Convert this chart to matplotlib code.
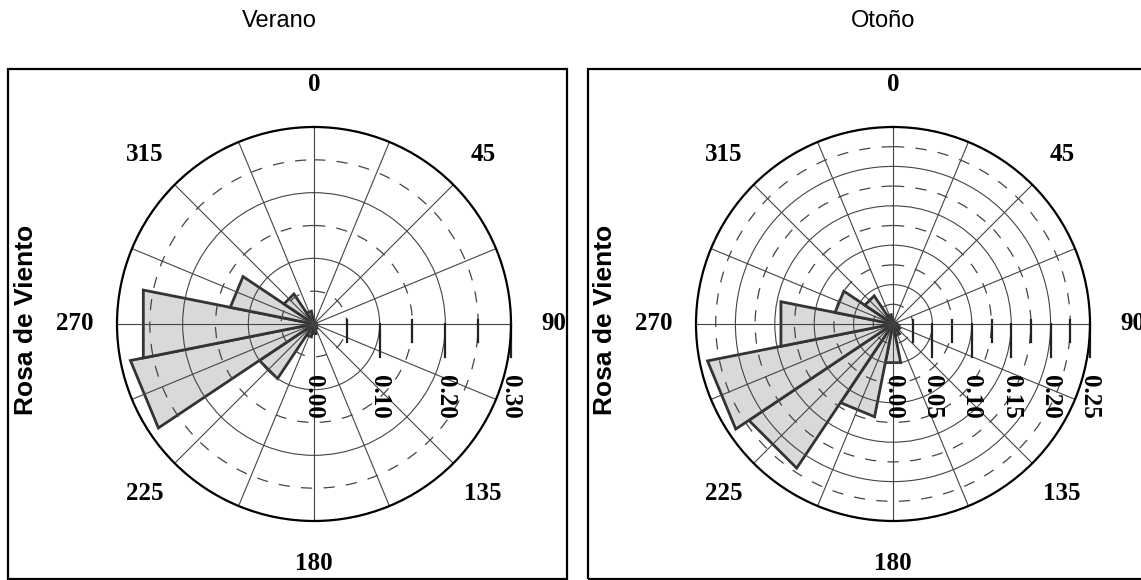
import numpy as np
import matplotlib.pyplot as plt
from matplotlib.patches import Rectangle

# sectores de direccion (grados), ancho 22.5
direcciones = np.arange(0, 360, 22.5)

# frecuencias relativas por sector
verano = [0.005, 0.003, 0.003, 0.003, 0.003, 0.003, 0.005, 0.008,
          0.015, 0.02, 0.10, 0.285, 0.265, 0.13, 0.055, 0.02]
otono = [0.005, 0.003, 0.003, 0.003, 0.005, 0.008, 0.01, 0.015,
         0.05, 0.12, 0.22, 0.24, 0.145, 0.075, 0.043, 0.012]

etiquetas_ang = ['0', '45', '90', '135', '180', '225', '270', '315']

verano_rmax = 0.30
verano_mayores = [0.10, 0.20, 0.30]
verano_menores = [0.05, 0.15, 0.25]
verano_etiq = ['0.00', '0.10', '0.20', '0.30']

otono_rmax = 0.25
otono_mayores = [0.05, 0.10, 0.15, 0.20, 0.25]
otono_menores = [0.025, 0.075, 0.125, 0.175, 0.225]
otono_etiq = ['0.00', '0.05', '0.10', '0.15', '0.20', '0.25']

W, H = 1141, 580
fig = plt.figure(figsize=(W / 100, H / 100), dpi=100)

serif = 'Liberation Serif'
sans = 'Liberation Sans'
gris = '#444444'


def rosa(ax, valores, rmax, mayores, menores, etiquetas_r):
    ax.set_theta_zero_location('N')
    ax.set_theta_direction(-1)
    media = np.deg2rad(22.5 / 2)
    for d, v in zip(direcciones, valores):
        t = np.deg2rad(d)
        ax.fill([0, t - media, t + media, 0], [0, v, v, 0],
                facecolor='#d9d9d9', edgecolor='#333333', lw=2, zorder=1)
    ax.set_xticks(np.deg2rad(direcciones))
    ax.set_xticklabels([])
    ax.set_yticks(mayores)
    ax.set_yticks(menores, minor=True)
    ax.set_yticklabels([])
    ax.set_yticklabels([], minor=True)
    ax.set_ylim(0, rmax)
    ax.xaxis.grid(True, color=gris, lw=0.8, ls='-')
    ax.yaxis.grid(True, which='major', color=gris, lw=0.8, ls='-')
    ax.yaxis.grid(True, which='minor', color=gris, lw=0.9, ls=(0, (9, 9)))
    ax.tick_params(axis='x', direction='in', length=5, width=1.4,
                   color='#222222')
    ax.tick_params(axis='y', which='both', length=0)
    ax.spines['polar'].set_linewidth(1.6)

    # marcas sobre el eje de 90 grados
    for v in mayores:
        x = 0.5 + 0.5 * v / rmax
        ax.plot([x, x], [0.5, 0.415], transform=ax.transAxes,
                color='#222222', lw=1.6, clip_on=False)
    for v in menores:
        x = 0.5 + 0.5 * v / rmax
        ax.plot([x, x], [0.51, 0.455], transform=ax.transAxes,
                color='#222222', lw=1.6, clip_on=False)
    for s in etiquetas_r:
        x = 0.5 + 0.5 * float(s) / rmax
        ax.text(x, 0.37, s, rotation=-90, ha='center', va='top',
                transform=ax.transAxes, fontsize=18, fontweight='bold',
                family=serif)

    for s in etiquetas_ang:
        ax.text(np.deg2rad(int(s)), rmax * 1.215, s, ha='center',
                va='center', fontsize=18, fontweight='bold', family=serif)


paneles = [
    (117, 8, 'Verano', 279, verano, verano_rmax, verano_mayores,
     verano_menores, verano_etiq, 26),
    (696, 588, 'Otoño', 883, otono, otono_rmax, otono_mayores,
     otono_menores, otono_etiq, 605),
]

for (x0, caja_x, titulo, tx, vals, rmax, may, men, etq, ly) in paneles:
    ax = fig.add_axes([x0 / W, (H - 521) / H, 394 / W, 394 / H],
                      projection='polar')
    rosa(ax, vals, rmax, may, men, etq)
    fig.add_artist(Rectangle((caja_x / W, 1 / H), 559 / W, 510 / H,
                             transform=fig.transFigure, fill=False,
                             lw=1.6, edgecolor='black'))
    fig.text(tx / W, 1 - 21 / H, titulo, ha='center', va='center',
             fontsize=17, family=sans)
    fig.text(ly / W, 1 - 320 / H, 'Rosa de Viento', rotation=90,
             ha='center', va='center', fontsize=19, fontweight='bold',
             family=sans)

fig.savefig('out.png', dpi=100)
